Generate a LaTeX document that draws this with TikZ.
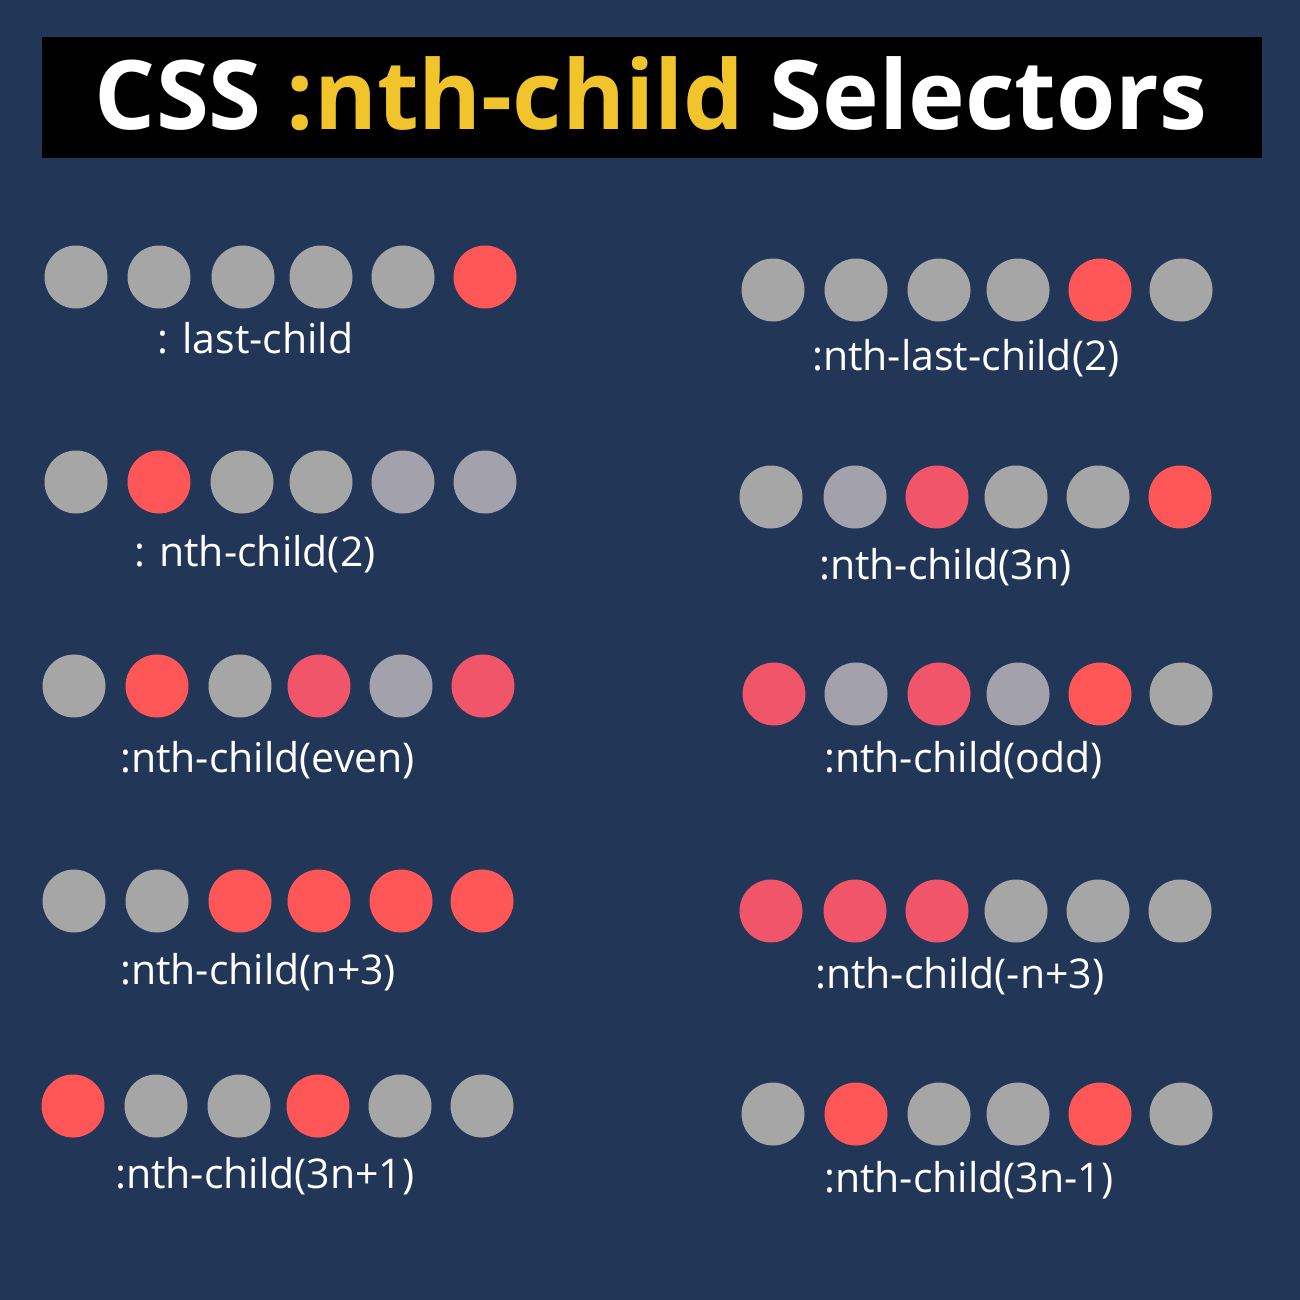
\documentclass[tikz,border=0pt]{standalone}
\usepackage{fontspec}
\setmainfont{Open Sans}
\newfontfamily\titlefont{Open Sans}[UprightFont=* Bold]
\definecolor{bgnavy}{HTML}{223658}
\definecolor{dotgrey}{HTML}{A6A6A6}
\definecolor{dotgreyb}{HTML}{A3A1AC}
\definecolor{dotred}{HTML}{FF5757}
\definecolor{dotredb}{HTML}{F1556A}
\definecolor{titleyellow}{HTML}{F0C42A}
\tikzset{
  dotg/.style={circle,fill=dotgrey,minimum size=63pt,inner sep=0pt},
  dotgb/.style={circle,fill=dotgreyb,minimum size=63pt,inner sep=0pt},
  dotr/.style={circle,fill=dotred,minimum size=63pt,inner sep=0pt},
  dotrb/.style={circle,fill=dotredb,minimum size=63pt,inner sep=0pt},
  lbl/.style={text=white,font=\fontsize{41}{44}\selectfont,anchor=base west,inner sep=0pt},
}
\begin{document}
\begin{tikzpicture}[x=1pt,y=-1pt]
\fill[bgnavy] (0,0) rectangle (1300,1300);
\useasboundingbox (0,0) rectangle (1300,1300);
\node[fill=black,minimum width=1220pt,minimum height=121pt,inner sep=0pt,anchor=north west] (titlebar) at (42,37) {};
\node[text=white,font=\titlefont\fontsize{96}{100}\selectfont,inner sep=0pt,anchor=base] (title) at (651,130)
  {CSS \textcolor{titleyellow}{:nth-child} Selectors};
% left column
% row 1 :last-child
\node[dotg] (l11) at (76,277) {};
\node[dotg] (l12) at (159,277) {};
\node[dotg] (l13) at (243,277) {};
\node[dotg] (l14) at (321,277) {};
\node[dotg] (l15) at (403,277) {};
\node[dotr] (l16) at (485,277) {};
\node[lbl] (lt1) at (157,353) {: last-child};
% row 2
\node[dotg] (l21) at (76,482) {};
\node[dotr] (l22) at (159,482) {};
\node[dotg] (l23) at (242,482) {};
\node[dotg] (l24) at (321,482) {};
\node[dotgb] (l25) at (403,482) {};
\node[dotgb] (l26) at (485,482) {};
\node[lbl] (lt2) at (134,566) {: nth-child(2)};
% row 3
\node[dotg] (l31) at (74,686) {};
\node[dotr] (l32) at (157,686) {};
\node[dotg] (l33) at (240,686) {};
\node[dotrb] (l34) at (319,686) {};
\node[dotgb] (l35) at (401,686) {};
\node[dotrb] (l36) at (483,686) {};
\node[lbl] (lt3) at (120,772) {:nth-child(even)};
% row 4
\node[dotg] (l41) at (74,901) {};
\node[dotg] (l42) at (157,901) {};
\node[dotr] (l43) at (240,901) {};
\node[dotr] (l44) at (319,901) {};
\node[dotr] (l45) at (401,901) {};
\node[dotr] (l46) at (482,901) {};
\node[lbl] (lt4) at (120,984) {:nth-child(n+3)};
% row 5
\node[dotr] (l51) at (73,1106) {};
\node[dotg] (l52) at (156,1106) {};
\node[dotg] (l53) at (239,1106) {};
\node[dotr] (l54) at (318,1106) {};
\node[dotg] (l55) at (400,1106) {};
\node[dotg] (l56) at (482,1106) {};
\node[lbl] (lt5) at (115,1188) {:nth-child(3n+1)};
% right column
% row 1
\node[dotg] (r11) at (773,290) {};
\node[dotg] (r12) at (856,290) {};
\node[dotg] (r13) at (939,290) {};
\node[dotg] (r14) at (1018,290) {};
\node[dotr] (r15) at (1100,290) {};
\node[dotg] (r16) at (1181,290) {};
\node[lbl] (rt1) at (812,370) {:nth-last-child(2)};
% row 2
\node[dotg] (r21) at (771,497) {};
\node[dotgb] (r22) at (855,497) {};
\node[dotrb] (r23) at (937,497) {};
\node[dotg] (r24) at (1016,497) {};
\node[dotg] (r25) at (1098,497) {};
\node[dotr] (r26) at (1180,497) {};
\node[lbl] (rt2) at (819,579) {:nth-child(3n)};
% row 3
\node[dotrb] (r31) at (774,694) {};
\node[dotgb] (r32) at (856,694) {};
\node[dotrb] (r33) at (939,694) {};
\node[dotgb] (r34) at (1018,694) {};
\node[dotr] (r35) at (1100,694) {};
\node[dotg] (r36) at (1181,694) {};
\node[lbl] (rt3) at (824,772) {:nth-child(odd)};
% row 4
\node[dotrb] (r41) at (771,911) {};
\node[dotrb] (r42) at (855,911) {};
\node[dotrb] (r43) at (937,911) {};
\node[dotg] (r44) at (1016,911) {};
\node[dotg] (r45) at (1098,911) {};
\node[dotg] (r46) at (1180,911) {};
\node[lbl] (rt4) at (815,988) {:nth-child(-n+3)};
% row 5
\node[dotg] (r51) at (773,1114) {};
\node[dotr] (r52) at (856,1114) {};
\node[dotg] (r53) at (939,1114) {};
\node[dotg] (r54) at (1018,1114) {};
\node[dotr] (r55) at (1100,1114) {};
\node[dotg] (r56) at (1181,1114) {};
\node[lbl] (rt5) at (824,1192) {:nth-child(3n-1)};
\end{tikzpicture}
\end{document}
